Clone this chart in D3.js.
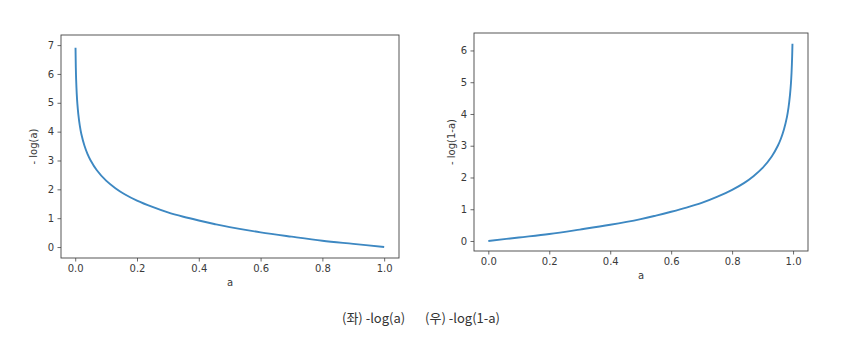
<!DOCTYPE html>
<html>
<head>
<meta charset="utf-8">
<script src="https://cdn.jsdelivr.net/npm/d3@7"></script>
<style>
  body { margin: 0; background: #fff; }
  svg text { font-family: "DejaVu Sans", sans-serif; }
</style>
</head>
<body>
<div id="container"></div>
<script>
/* DATA */
// left: - log(a)
const leftA = [0.001, 0.002, 0.003, 0.005, 0.007, 0.01, 0.015, 0.02, 0.03, 0.04, 0.05, 0.07, 0.1,
  0.13, 0.16, 0.2, 0.25, 0.3, 0.35, 0.4, 0.45, 0.5, 0.6, 0.7, 0.8, 0.9, 1.0]
const leftY = [6.91, 6.21, 5.81, 5.30, 4.96, 4.61, 4.20, 3.91, 3.51, 3.22, 3.00, 2.66, 2.30,
  2.04, 1.83, 1.61, 1.39, 1.20, 1.05, 0.92, 0.80, 0.69, 0.51, 0.36, 0.22, 0.11, 0.00]
// right: - log(1-a)
const rightA = [0, 0.1, 0.2, 0.3, 0.4, 0.5, 0.55, 0.6, 0.65, 0.7, 0.75, 0.8, 0.84, 0.87, 0.9, 0.93, 0.95,
  0.96, 0.97, 0.98, 0.985, 0.99, 0.993, 0.995, 0.997, 0.998]
const rightY = [0.00, 0.11, 0.22, 0.36, 0.51, 0.69, 0.80, 0.92, 1.05, 1.20, 1.39, 1.61, 1.83, 2.04, 2.30, 2.66, 3.00,
  3.22, 3.51, 3.91, 4.20, 4.61, 4.96, 5.30, 5.81, 6.21]

const xTicks = [0, 0.2, 0.4, 0.6, 0.8, 1.0]
const leftYTicks = [0, 1, 2, 3, 4, 5, 6, 7]
const rightYTicks = [0, 1, 2, 3, 4, 5, 6]
const captionLeft = "(좌) -log(a)"
const captionRight = "(우) -log(1-a)"

const svg = d3.select("#container")
  .append("svg")
    .attr("width", 866)
    .attr("height", 352)

function drawPanel(cfg) {
  const data = cfg.xs.map((x, i) => ({x: x, y: cfg.ys[i]}))

  const xScale = d3.scaleLinear().domain(cfg.xDomain).range([cfg.left, cfg.right])
  const yScale = d3.scaleLinear().domain(cfg.yDomain).range([cfg.bottom, cfg.top])

  const g = svg.append("g")

  // x axis
  g.append("g")
    .attr("transform", "translate(0," + cfg.bottom + ")")
    .call(d3.axisBottom(xScale).tickValues(xTicks).tickFormat(d3.format(".1f"))
      .tickSize(3.5).tickPadding(3.5))
  // y axis
  g.append("g")
    .attr("transform", "translate(" + cfg.left + ",0)")
    .call(d3.axisLeft(yScale).tickValues(cfg.yTicks).tickFormat(d3.format("d"))
      .tickSize(3.5).tickPadding(3.5))

  g.selectAll(".domain").remove()
  g.selectAll(".tick line").attr("stroke", "#444").attr("stroke-width", 0.8)
  g.selectAll(".tick text").attr("fill", "#3a3a3a")
    .style("font-family", "'DejaVu Sans', sans-serif").style("font-size", "10px")

  // line
  const line = d3.line()
    .x(d => xScale(d.x))
    .y(d => yScale(d.y))
    .curve(d3.curveCatmullRom.alpha(0.5))

  g.append("path")
    .datum(data)
    .attr("fill", "none")
    .attr("stroke", "#3d88c2")
    .attr("stroke-width", 1.9)
    .attr("d", line)

  // frame
  g.append("rect")
    .attr("x", cfg.left)
    .attr("y", cfg.top)
    .attr("width", cfg.right - cfg.left)
    .attr("height", cfg.bottom - cfg.top)
    .attr("fill", "none")
    .attr("stroke", "#444")
    .attr("stroke-width", 0.9)

  // labels
  g.append("text")
    .attr("x", (cfg.left + cfg.right) / 2)
    .attr("y", cfg.bottom + 28)
    .attr("text-anchor", "middle")
    .attr("fill", "#3a3a3a")
    .style("font-size", "10px")
    .text("a")

  g.append("text")
    .attr("transform", "translate(" + cfg.yLabelX + "," + ((cfg.top + cfg.bottom) / 2) + ") rotate(-90)")
    .attr("text-anchor", "middle")
    .attr("fill", "#3a3a3a")
    .style("font-size", "10px")
    .text(cfg.yLabel)
}

drawPanel({
  xs: leftA, ys: leftY,
  xDomain: [-0.046, 1.048], yDomain: [-0.38, 7.35],
  left: 61, right: 399, top: 35, bottom: 258,
  yTicks: leftYTicks, yLabel: "- log(a)", yLabelX: 37
})

drawPanel({
  xs: rightA, ys: rightY,
  xDomain: [-0.047, 1.049], yDomain: [-0.315, 6.55],
  left: 474, right: 808, top: 33, bottom: 251,
  yTicks: rightYTicks, yLabel: "- log(1-a)", yLabelX: 455
})

// caption
svg.append("text")
  .attr("x", 342)
  .attr("y", 323)
  .attr("text-anchor", "start")
  .attr("fill", "#333")
  .style("font-family", "'Noto Sans CJK KR', sans-serif")
  .style("font-size", "13px")
  .text(captionLeft)

svg.append("text")
  .attr("x", 500)
  .attr("y", 323)
  .attr("text-anchor", "end")
  .attr("fill", "#333")
  .style("font-family", "'Noto Sans CJK KR', sans-serif")
  .style("font-size", "13px")
  .text(captionRight)
</script>
</body>
</html>
